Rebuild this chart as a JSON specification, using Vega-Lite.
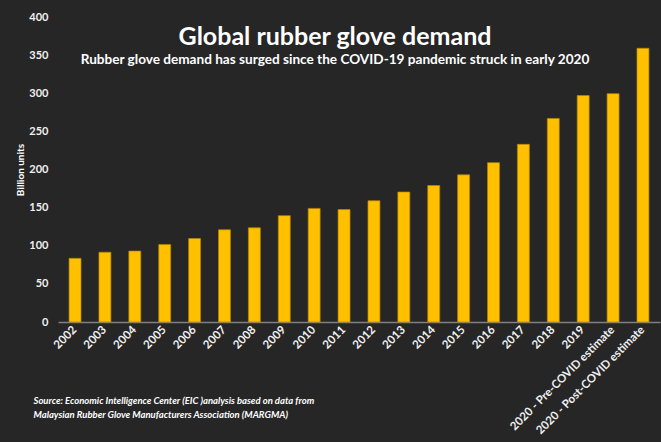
{
  "$schema": "https://vega.github.io/schema/vega-lite/v6.json",
  "autosize": "none",
  "width": 602,
  "height": 305,
  "padding": {"left": 58, "top": 17, "right": 1, "bottom": 120},
  "background": "#262626",
  "config": {"view": {"stroke": null}, "font": "Lato"},
  "title": {
    "text": "Global rubber glove demand",
    "subtitle": "Rubber glove demand has surged since the COVID-19 pandemic struck in early 2020",
    "anchor": "middle",
    "frame": "group",
    "dx": -24,
    "offset": -56,
    "fontSize": 25,
    "fontWeight": "bold",
    "color": "#FFFFFF",
    "subtitleFontSize": 13.6,
    "subtitleFontWeight": "bold",
    "subtitleColor": "#FFFFFF",
    "subtitlePadding": 3
  },
  "data": {
    "values": [
      {"year": "2002", "demand": 83.5},
      {"year": "2003", "demand": 91.5},
      {"year": "2004", "demand": 93},
      {"year": "2005", "demand": 101.5},
      {"year": "2006", "demand": 109.5},
      {"year": "2007", "demand": 121},
      {"year": "2008", "demand": 123.5},
      {"year": "2009", "demand": 139.5},
      {"year": "2010", "demand": 149},
      {"year": "2011", "demand": 147.5},
      {"year": "2012", "demand": 159},
      {"year": "2013", "demand": 170.5},
      {"year": "2014", "demand": 179},
      {"year": "2015", "demand": 193},
      {"year": "2016", "demand": 209},
      {"year": "2017", "demand": 233},
      {"year": "2018", "demand": 267},
      {"year": "2019", "demand": 297},
      {"year": "2020 - Pre-COVID estimate", "demand": 299.5},
      {"year": "2020 - Post-COVID estimate", "demand": 359}
    ]
  },
  "mark": {"type": "bar", "color": "#FFC000", "stroke": "#B38600", "strokeWidth": 0.7},
  "encoding": {
    "x": {
      "field": "year",
      "type": "nominal",
      "sort": null,
      "scale": {"paddingInner": 0.6, "paddingOuter": 0.37},
      "axis": {
        "title": ["Source: Economic Intelligence Center (EIC )analysis based on data from", "Malaysian Rubber Glove Manufacturers Association (MARGMA)"],
        "titleX": -25,
        "titleY": 73,
        "titleAlign": "left",
        "titleAnchor": "start",
        "titleBaseline": "top",
        "titleAngle": 0,
        "titleFontSize": 9.5,
        "titleFontStyle": "italic",
        "titleFontWeight": "bold",
        "titleColor": "#FFFFFF",
        "titleLineHeight": 14,
        "labelAngle": -45,
        "labelAlign": "right",
        "labelBaseline": "middle",
        "labelPadding": 6,
        "labelFontSize": 11.5,
        "labelFontWeight": "bold",
        "labelColor": "#F0F0F0",
        "labelLimit": 300,
        "ticks": false,
        "domainColor": "#808080",
        "domainWidth": 1.5
      }
    },
    "y": {
      "field": "demand",
      "type": "quantitative",
      "scale": {"domain": [0, 400], "nice": false},
      "axis": {
        "title": "Billion units",
        "titleFontSize": 10,
        "titleFontWeight": "bold",
        "titleColor": "#FFFFFF",
        "titlePadding": 3,
        "values": [0, 50, 100, 150, 200, 250, 300, 350, 400],
        "labelFontSize": 11,
        "labelFontWeight": "bold",
        "labelColor": "#F0F0F0",
        "labelPadding": 10,
        "ticks": false,
        "domain": false,
        "grid": false
      }
    }
  }
}
